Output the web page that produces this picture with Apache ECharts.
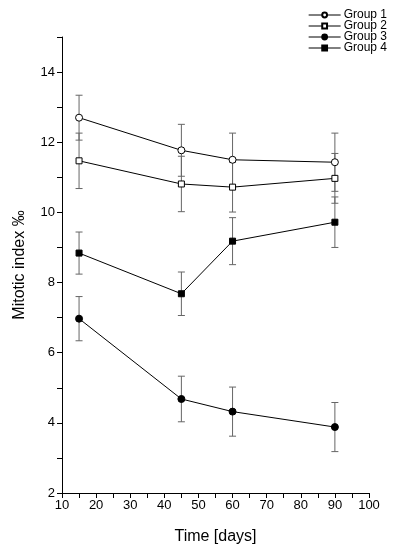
<!DOCTYPE html>
<html>
<head>
<meta charset="utf-8">
<script src="https://cdn.jsdelivr.net/npm/echarts@6/dist/echarts.min.js"></script>
<style>
html,body{margin:0;padding:0;background:#fff;}
#chart{width:400px;height:551px;}
</style>
</head>
<body>
<div id="chart"></div>
<script>
const days = [15, 45, 60, 90];
const seriesNames = ['Group 1', 'Group 2', 'Group 3', 'Group 4'];
const group1 = [12.70, 11.77, 11.50, 11.43];
const group1Err = [0.64, 0.74, 0.76, 0.83];
const group2 = [11.47, 10.81, 10.72, 10.97];
const group2Err = [0.79, 0.79, 0.71, 0.71];
const group3 = [6.97, 4.68, 4.32, 3.88];
const group3Err = [0.63, 0.65, 0.70, 0.70];
const group4 = [8.84, 7.68, 9.18, 9.72];
const group4Err = [0.60, 0.62, 0.67, 0.72];
const xTickLabels = [10, 20, 30, 40, 50, 60, 70, 80, 90, 100];
const yTickLabels = [2, 4, 6, 8, 10, 12, 14];

const values = [group1, group2, group3, group4];
const errors = [group1Err, group2Err, group3Err, group4Err];
const symbols = ['circle', 'rect', 'circle', 'rect'];
const symbolSizes = [7, 6, 7, 6];
const fills = ['#ffffff', '#ffffff', '#000000', '#000000'];

const FONT = '"Liberation Sans", Arial, sans-serif';
const chart = echarts.init(document.getElementById('chart'), null, {renderer: 'canvas'});

const errSeries = values.map((vals, gi) => ({
  type: 'custom',
  name: seriesNames[gi] + ' err',
  z: 1,
  silent: true,
  data: days.map((d, i) => [d, vals[i], errors[gi][i]]),
  encode: {x: 0, y: 1},
  renderItem: function (params, api) {
    const x = api.value(0), y = api.value(1), e = api.value(2);
    const hi = api.coord([x, y + e]);
    const lo = api.coord([x, y - e]);
    const hw = 3.5;
    const st = {stroke: '#666666', lineWidth: 1};
    return {
      type: 'group',
      children: [
        {type: 'line', shape: {x1: hi[0], y1: hi[1], x2: lo[0], y2: lo[1]}, style: st},
        {type: 'line', shape: {x1: hi[0] - hw, y1: hi[1], x2: hi[0] + hw, y2: hi[1]}, style: st},
        {type: 'line', shape: {x1: lo[0] - hw, y1: lo[1], x2: lo[0] + hw, y2: lo[1]}, style: st}
      ]
    };
  }
}));

const lineSeries = values.map((vals, gi) => ({
  type: 'line',
  name: seriesNames[gi],
  z: 3,
  data: days.map((d, i) => [d, vals[i]]),
  symbol: symbols[gi],
  symbolSize: symbolSizes[gi],
  showAllSymbol: true,
  lineStyle: {color: '#000', width: 1},
  itemStyle: {color: fills[gi], borderColor: '#000', borderWidth: 1},
  emphasis: {disabled: true},
  animation: false
}));

chart.setOption({
  animation: false,
  backgroundColor: '#fff',
  grid: {left: 62, right: 31, top: 37, bottom: 58},
  legend: {
    orient: 'vertical',
    right: 8,
    top: 4,
    itemWidth: 32,
    itemHeight: 6,
    itemGap: -1,
    selectedMode: false,
    data: seriesNames,
    lineStyle: {width: 1},
    textStyle: {fontFamily: FONT, fontSize: 12, color: '#000', padding: [0, 0, 0, -2]}
  },
  xAxis: {
    type: 'value',
    min: 10, max: 100, interval: 5,
    name: 'Time [days]',
    nameLocation: 'middle',
    nameGap: 36,
    nameTextStyle: {fontFamily: FONT, fontSize: 16, color: '#000'},
    axisLine: {show: true, onZero: false, lineStyle: {color: '#000', width: 1}},
    axisTick: {show: true, inside: false, length: 5, lineStyle: {color: '#000'}},
    axisLabel: {
      fontFamily: FONT, fontSize: 13, color: '#000', margin: 6,
      formatter: v => xTickLabels.indexOf(v) >= 0 ? String(v) : ''
    },
    splitLine: {show: false}
  },
  yAxis: {
    type: 'value',
    min: 2, max: 15, interval: 1,
    name: 'Mitotic index ‰',
    nameLocation: 'middle',
    nameGap: 34,
    nameRotate: 90,
    nameTextStyle: {fontFamily: FONT, fontSize: 16, color: '#000'},
    axisLine: {show: true, onZero: false, lineStyle: {color: '#000', width: 1}},
    axisTick: {show: true, inside: false, length: 5, lineStyle: {color: '#000'}},
    axisLabel: {
      fontFamily: FONT, fontSize: 13, color: '#000', margin: 7,
      formatter: v => yTickLabels.indexOf(v) >= 0 ? String(v) : ''
    },
    splitLine: {show: false}
  },
  series: errSeries.concat(lineSeries)
});
</script>
</body>
</html>
